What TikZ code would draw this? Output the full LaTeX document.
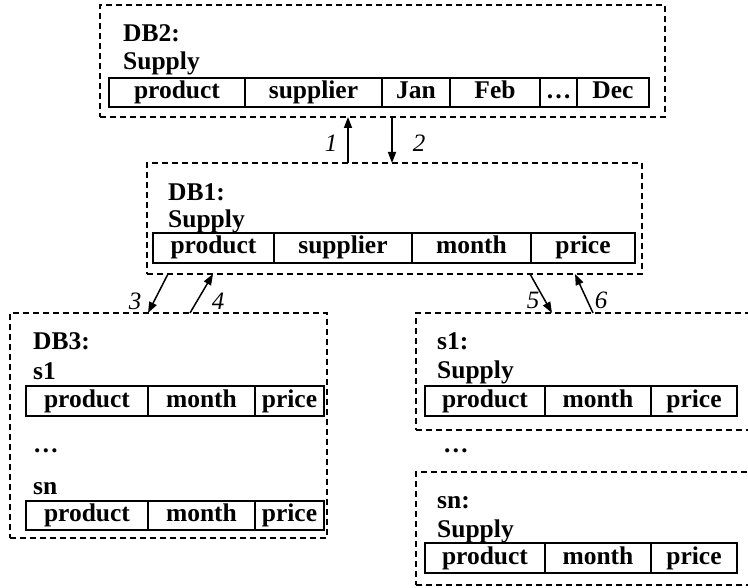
\documentclass[tikz,border=0pt]{standalone}
\usepackage{fontspec}
\setmainfont{Liberation Serif}
\usetikzlibrary{arrows.meta}

\begin{document}
\begin{tikzpicture}[x=1pt, y=-1pt,
    caja/.style={
        draw, dash pattern=on 6pt off 4pt, line width=1.5pt,
        inner sep=0pt, outer sep=0pt
    },
    celda/.style={
        draw, line width=2pt, inner sep=0pt, outer sep=0pt,
        text height=17pt, text depth=5pt,
        font=\bfseries\fontsize{25.5}{28}\selectfont
    },
    titulo/.style={anchor=base west, inner sep=0pt, font=\bfseries\fontsize{25.5}{28}\selectfont},
    etiqueta/.style={inner sep=0pt, font=\itshape\fontsize{25}{28}\selectfont},
    flecha/.style={-{Triangle[length=11pt,width=8pt]}, line width=1.5pt}
]
\useasboundingbox (0,0) rectangle (748,588);

% Cajas punteadas
\node[caja, minimum width=565pt, minimum height=112pt] (db2) at (382.5,61) {};
\node[caja, minimum width=495pt, minimum height=111pt] (db1) at (394.5,218.5) {};
\node[caja, minimum width=317pt, minimum height=225pt] (db3) at (168.5,425.5) {};
\node[caja, minimum width=344pt, minimum height=117pt] (s1) at (588,371.5) {};
\node[caja, minimum width=344pt, minimum height=113pt] (sn) at (588,528.5) {};

% DB2
\node[titulo] (t2) at (123,42) {DB2:};
\node[titulo] (u2) at (123,70) {Supply};
\node[celda, minimum width=136pt, minimum height=29pt] (a2) at (177,92.5) {product};
\node[celda, minimum width=137pt, minimum height=29pt] (b2) at (313.5,92.5) {supplier};
\node[celda, minimum width=68pt, minimum height=29pt] (c2) at (416,92.5) {Jan};
\node[celda, minimum width=90pt, minimum height=29pt] (d2) at (495,92.5) {Feb};
\node[celda, minimum width=37pt, minimum height=29pt] (e2) at (558.5,92.5) {\dots};
\node[celda, minimum width=72pt, minimum height=29pt] (f2) at (613,92.5) {Dec};

% DB1
\node[titulo] (t1) at (168,201) {DB1:};
\node[titulo] (u1) at (168,228) {Supply};
\node[celda, minimum width=121pt, minimum height=30pt] (a1) at (213.5,248) {product};
\node[celda, minimum width=138pt, minimum height=30pt] (b1) at (343,248) {supplier};
\node[celda, minimum width=119pt, minimum height=30pt] (c1) at (471.5,248) {month};
\node[celda, minimum width=104pt, minimum height=30pt] (d1) at (583,248) {price};

% DB3
\node[titulo] (t3) at (33,350) {DB3:};
\node[titulo] (u3) at (33,380) {s1};
\node[celda, minimum width=122pt, minimum height=30pt] (a3) at (87,401) {product};
\node[celda, minimum width=107pt, minimum height=30pt] (b3) at (201.5,401) {month};
\node[celda, minimum width=69pt, minimum height=30pt] (c3) at (289.5,401) {price};
\node[titulo] (p3) at (33,453) {\dots};
\node[titulo] (v3) at (33,494) {sn};
\node[celda, minimum width=122pt, minimum height=29pt] (d3) at (87,515.5) {product};
\node[celda, minimum width=107pt, minimum height=29pt] (e3) at (201.5,515.5) {month};
\node[celda, minimum width=69pt, minimum height=29pt] (f3) at (289.5,515.5) {price};

% s1 ... sn
\node[titulo] (ts1) at (437,350) {s1:};
\node[titulo] (us1) at (437,379) {Supply};
\node[celda, minimum width=120pt, minimum height=30pt] (as1) at (485,401) {product};
\node[celda, minimum width=106pt, minimum height=30pt] (bs1) at (598,401) {month};
\node[celda, minimum width=86pt, minimum height=30pt] (cs1) at (694,401) {price};
\node[titulo] (pp) at (443,453) {\dots};
\node[titulo] (tsn) at (437,508) {sn:};
\node[titulo] (usn) at (437,537) {Supply};
\node[celda, minimum width=120pt, minimum height=30pt] (asn) at (485,558) {product};
\node[celda, minimum width=106pt, minimum height=30pt] (bsn) at (598,558) {month};
\node[celda, minimum width=86pt, minimum height=30pt] (csn) at (694,558) {price};

% Flechas entre cajas
\draw[flecha] ([xshift=201pt]db1.north west) -- ([xshift=248pt]db2.south west);
\draw[flecha] ([xshift=292pt]db2.south west) -- ([xshift=245pt]db1.north west);
\draw[flecha] ([xshift=21pt]db1.south west) -- ([xshift=138pt]db3.north west);
\draw[flecha] ([xshift=180pt]db3.north west) -- ([xshift=66pt]db1.south west);
\draw[flecha] ([xshift=383pt]db1.south west) -- ([xshift=136pt]s1.north west);
\draw[flecha] ([xshift=177pt]s1.north west) -- ([xshift=428pt]db1.south west);

% Numeros
\node[etiqueta] (n1) at (331,143) {1};
\node[etiqueta] (n2) at (419,143) {2};
\node[etiqueta] (n3) at (135,301) {3};
\node[etiqueta] (n4) at (218,301) {4};
\node[etiqueta] (n5) at (533,300) {5};
\node[etiqueta] (n6) at (601,300) {6};

\end{tikzpicture}
\end{document}
